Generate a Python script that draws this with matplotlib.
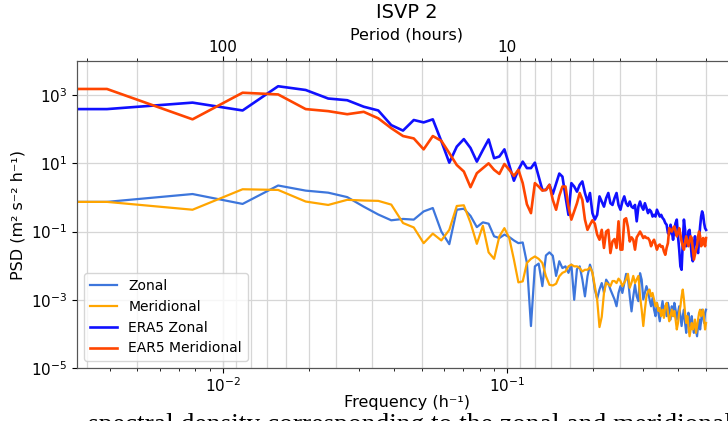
import numpy as np
import matplotlib
matplotlib.use("Agg")
import matplotlib.pyplot as plt
from matplotlib.ticker import FuncFormatter, NullFormatter, NullLocator

# log10 PSD values, first entry is the DC bin; bins are k/256 h^-1
zonal_log = [
    -0.13,
    -0.13, 0.10, -0.19, 0.35, 0.20, 0.14, 0.01, -0.27, -0.50, -0.67,
    -0.63, -0.65, -0.41, -0.31, -1.00, -1.37, -0.36, -0.33, -0.54, -0.87,
    -0.73, -0.77, -1.14, -1.19, -1.09, -1.16, -1.26, -1.34, -1.32, -1.92,
    -3.77, -2.02, -1.94, -2.60, -1.70, -1.61, -1.71, -2.30, -1.87, -2.07,
    -2.02, -2.21, -1.97, -3.00, -2.10, -2.02, -2.40, -2.90, -2.31, -1.97,
    -2.21, -2.70, -2.97, -2.70, -2.51, -2.79, -2.41, -2.51, -2.70, -2.85,
    -2.99, -3.19, -2.80, -2.60, -2.80, -2.51, -2.24, -2.36, -2.90, -3.34,
    -2.90, -2.56, -2.90, -3.04, -2.22, -2.41, -2.99, -2.80, -2.60, -2.75,
    -2.99, -3.19, -2.95, -3.29, -3.48, -3.09, -3.38, -3.63, -3.29, -3.04,
    -3.38, -3.19, -3.48, -3.09, -3.29, -3.58, -3.19, -3.48, -3.09, -3.29,
    -3.58, -3.38, -3.19, -3.48, -3.77, -3.48, -3.29, -3.68, -3.97, -3.58,
    -3.38, -3.68, -3.82, -3.48, -3.77, -3.97, -3.68, -3.87, -4.07, -3.77,
    -3.58, -3.87, -3.63, -3.29, -3.48, -3.68, -3.38, -3.29,
]

meridional_log = [
    -0.13,
    -0.13, -0.36, 0.24, 0.22, -0.12, -0.22, -0.07, -0.09, -0.10, -0.21,
    -0.75, -0.88, -1.34, -1.06, -1.26, -0.95, -0.25, -0.23, -0.74, -1.36,
    -0.83, -1.61, -1.80, -1.14, -0.90, -1.19, -1.82, -2.49, -2.46, -1.92,
    -1.80, -1.73, -1.80, -1.92, -2.31, -2.56, -2.58, -2.53, -2.31, -2.21,
    -2.17, -2.02, -1.97, -2.02, -2.02, -2.07, -2.17, -2.12, -2.12, -2.05,
    -2.20, -2.60, -3.00, -3.80, -3.50, -2.80, -2.50, -2.55, -2.60, -2.45,
    -2.45, -2.51, -2.38, -2.45, -2.60, -2.50, -2.40, -2.24, -2.65, -2.50,
    -2.30, -2.51, -2.40, -2.30, -2.90, -3.29, -3.77, -3.29, -2.90, -2.75,
    -2.70, -2.90, -2.80, -2.99, -3.19, -3.09, -3.33, -3.24, -3.48, -3.29,
    -3.53, -3.19, -3.09, -3.38, -3.63, -3.48, -3.29, -3.48, -3.33, -3.58,
    -3.87, -3.68, -3.38, -3.19, -2.90, -2.70, -2.99, -3.38, -3.68, -3.48,
    -3.77, -4.07, -3.87, -3.68, -3.87, -3.77, -3.58, -3.97, -3.77, -3.58,
    -3.38, -3.29, -3.48, -3.38, -3.29, -3.58, -3.87, -3.68,
]

era5_zonal_log = [
    2.59,
    2.59, 2.78, 2.55, 3.26, 3.15, 2.90, 2.85, 2.66, 2.55, 2.12,
    1.96, 2.27, 2.20, 2.29, 1.65, 1.02, 1.49, 1.71, 1.45, 1.05,
    1.39, 1.70, 1.15, 1.20, 1.41, 0.95, 0.49, 0.81, 1.05, 0.86,
    0.86, 1.02, 0.61, 0.22, 0.22, 0.37, 0.10, 0.40, 0.70, 0.61,
    0.03, -0.51, 0.42, 0.32, 0.17, 0.37, 0.47, 0.13, -0.12, 0.13,
    -0.46, -0.65, -0.51, 0.03, -0.12, -0.27, -0.02, 0.13, -0.17, -0.22,
    -0.02, 0.13, -0.22, -0.36, -0.12, 0.03, -0.17, -0.25, -0.12, -0.27,
    -0.31, -0.22, -0.70, -0.27, -0.12, -0.27, -0.36, -0.17, -0.31, -0.46,
    -0.36, -0.41, -0.56, -0.51, -0.56, -0.36, -0.46, -0.56, -0.51, -0.60,
    -0.65, -0.75, -0.80, -1.04, -1.09, -0.80, -0.99, -1.24, -0.95, -0.75,
    -0.65, -1.14, -1.53, -2.02, -2.12, -1.34, -0.65, -0.95, -1.43, -1.38,
    -0.99, -0.95, -1.34, -1.72, -1.87, -1.34, -1.14, -1.29, -1.53, -1.63,
    -1.24, -0.85, -0.56, -0.41, -0.51, -0.75, -0.90, -0.95,
]

era5_merid_log = [
    3.18,
    3.18, 2.29, 3.07, 3.02, 2.59, 2.53, 2.44, 2.51, 2.32, 2.03,
    1.80, 1.73, 1.41, 1.80, 1.66, 1.30, 0.95, 0.76, 0.30, 0.71,
    0.86, 1.00, 0.81, 0.69, 0.98, 0.81, 0.63, 0.81, 0.42, -0.20,
    -0.46, 0.42, 0.32, 0.20, 0.22, 0.37, -0.07, -0.36, 0.05, 0.32,
    0.32, -0.26, -0.65, -0.41, -0.17, 0.13, -0.07, -0.65, -0.95, -0.80,
    -0.67, -0.77, -1.09, -1.24, -0.95, -1.48, -1.00, -0.95, -1.63, -1.29,
    -1.22, -1.48, -0.70, -1.53, -1.53, -0.65, -0.61, -0.87, -1.29, -1.17,
    -1.24, -1.53, -1.17, -1.09, -1.00, -1.09, -1.19, -1.14, -1.19, -1.19,
    -1.26, -1.43, -1.31, -1.24, -1.38, -1.53, -1.41, -1.38, -1.45, -1.43,
    -1.58, -1.68, -1.48, -1.34, -0.90, -0.95, -1.00, -0.90, -0.85, -1.00,
    -1.14, -1.04, -0.90, -1.09, -1.29, -1.43, -1.53, -1.34, -1.14, -1.29,
    -1.43, -1.29, -1.14, -1.19, -1.53, -1.82, -1.68, -1.53, -1.43, -1.14,
    -1.00, -1.14, -1.43, -1.38, -1.19, -1.29, -1.43, -1.19,
]

nperseg = 256
freq = np.arange(len(zonal_log)) / nperseg

series = [
    ("Zonal", zonal_log, "#3d76dc", 1.6),
    ("Meridional", meridional_log, "orange", 1.6),
    ("ERA5 Zonal", era5_zonal_log, "#1010ff", 1.9),
    ("EAR5 Meridional", era5_merid_log, "orangered", 1.9),
]

fig = plt.figure(figsize=(7.28, 4.21), dpi=100)
ax = fig.add_axes([77 / 728, 1 - 368 / 421, (736 - 77) / 728, (368 - 61) / 421])
ax.set_xscale("log")
ax.set_yscale("log")

for name, vals, col, lw in series:
    ax.plot(freq, 10 ** np.array(vals), color=col, lw=lw, label=name)

ax.set_ylim(1e-5, 1e4)
ax.set_yticks([1e-5, 1e-3, 1e-1, 1e1, 1e3])
ax.yaxis.set_minor_locator(NullLocator())
ax.grid(True, which="major", color="#d6d6d6", lw=0.9)
ax.tick_params(labelsize=11)
ax.tick_params(axis="x", pad=2.5)
ax.set_xlabel("Frequency (h⁻¹)", fontsize=11.5, labelpad=0)
ax.set_ylabel("PSD (m² s⁻² h⁻¹)", fontsize=11.5)
for sp in ax.spines.values():
    sp.set_color("#555555")

# period axis on top, same scale but in hours
lo, hi = ax.get_xlim()
top = ax.twiny()
top.set_xscale("log")
top.set_xlim(1 / lo, 1 / hi)
top.xaxis.set_major_formatter(FuncFormatter(lambda v, p: f"{v:g}"))
top.xaxis.set_minor_formatter(NullFormatter())
top.grid(True, which="both", color="#d6d6d6", lw=0.9)
top.tick_params(labelsize=11, pad=1.0)
top.set_xlabel("Period (hours)", fontsize=11.5, labelpad=0)
for sp in top.spines.values():
    sp.set_color("#555555")

# keep the data lines above the period grid
ax.set_zorder(top.get_zorder() + 1)
ax.patch.set_visible(False)

ax.legend(loc="lower left", fontsize=10, framealpha=0.8)
ax.set_title("ISVP 2", fontsize=14, pad=7)

fig.text(0.121, -0.026, "spectral density corresponding to the zonal and meridional",
         family="Liberation Serif", fontsize=19.8, va="baseline")

fig.savefig("out.png", dpi=100)
